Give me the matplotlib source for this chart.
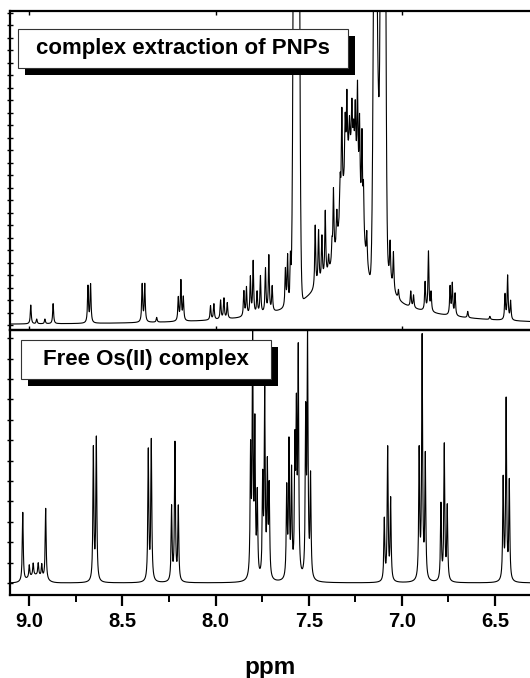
import numpy as np
import matplotlib
matplotlib.use("Agg")
import matplotlib.pyplot as plt
from matplotlib.patches import Rectangle
from matplotlib.ticker import MultipleLocator

plt.rcParams['font.family'] = ['Liberation Sans', 'DejaVu Sans']
plt.rcParams['font.weight'] = 'bold'

# ---- peak tables (ppm, height, half width) ----
# top spectrum : complex extraction of PNPs  (height 1 = top of panel)
top_pos = [8.992, 8.960, 8.916, 8.872, 8.685, 8.671, 8.394, 8.380, 8.316,
           8.200, 8.186, 8.173,
           8.027, 8.009, 7.973, 7.955, 7.937, 7.848, 7.834, 7.813, 7.798,
           7.777, 7.759, 7.732, 7.714, 7.696, 7.625, 7.613, 7.598,
           7.465, 7.447, 7.429, 7.411, 7.393, 7.375, 7.367, 7.349, 7.331,
           7.322, 7.304, 7.295, 7.281, 7.268, 7.259, 7.250, 7.238, 7.227,
           7.214, 7.206, 7.188,
           7.063, 7.045, 7.018, 6.952, 6.937, 6.875, 6.857, 6.843,
           6.741, 6.729, 6.714, 6.646, 6.527, 6.446, 6.432, 6.416]
top_h = [0.060, 0.015, 0.015, 0.064, 0.117, 0.122, 0.120, 0.120, 0.015,
         0.074, 0.127, 0.074,
         0.045, 0.050, 0.060, 0.065, 0.050, 0.080, 0.090, 0.120, 0.170,
         0.070, 0.120, 0.140, 0.180, 0.080, 0.120, 0.160, 0.150,
         0.200, 0.170, 0.140, 0.210, 0.050, 0.060, 0.220, 0.100, 0.120,
         0.300, 0.180, 0.220, 0.100, 0.150, 0.080, 0.180, 0.300, 0.250,
         0.280, 0.150, 0.100,
         0.120, 0.120, 0.030, 0.050, 0.040, 0.090, 0.190, 0.060,
         0.090, 0.100, 0.070, 0.020, 0.010, 0.080, 0.140, 0.060]
# broad features of the top spectrum (gaussian)
top_broad_pos = [7.566, 7.143, 7.125, 7.101, 7.270]
top_broad_h = [6.3, 1.74, 0.35, 4.7, 0.40]
top_broad_w = [0.0094, 0.0085, 0.006, 0.0085, 0.045]
# very broad background (lorentzian)
top_bg_pos = [7.35, 7.08, 7.20]
top_bg_h = [0.12, 0.10, 0.05]
top_bg_w = [0.15, 0.03, 0.40]

# bottom spectrum : Free Os(II) complex
bot_pos = [9.035, 9.000, 8.979, 8.952, 8.933, 8.912, 8.656, 8.640,
           8.361, 8.345, 8.236, 8.218, 8.200,
           7.812, 7.801, 7.789, 7.776, 7.747, 7.736, 7.722, 7.712,
           7.618, 7.606, 7.592, 7.574, 7.566, 7.556, 7.516, 7.506, 7.490,
           7.094, 7.076, 7.060, 6.907, 6.891, 6.874,
           6.790, 6.772, 6.756, 6.456, 6.440, 6.423]
bot_h = [0.28, 0.05, 0.05, 0.05, 0.05, 0.29, 0.54, 0.58,
         0.53, 0.57, 0.30, 0.56, 0.30,
         0.50, 0.95, 0.60, 0.33, 0.39, 0.74, 0.44, 0.36,
         0.36, 0.54, 0.42, 0.50, 0.62, 0.90, 0.64, 0.98, 0.41,
         0.25, 0.54, 0.33, 0.52, 0.98, 0.50,
         0.31, 0.55, 0.30, 0.41, 0.73, 0.40]
# broad raised base under the 9.0-8.9 multiplet
bot_bg_pos = [8.965]
bot_bg_h = [0.03]
bot_bg_w = [0.04]

gamma = 0.003
ppm = np.linspace(6.25, 9.15, 8000)


def lor(x, c, h, w):
    return h / (1.0 + ((x - c) / w) ** 2)


def gau(x, c, h, w):
    return h * np.exp(-(x - c) ** 2 / (2 * w ** 2))


top_spec = np.zeros_like(ppm)
for c, h in zip(top_pos, top_h):
    top_spec += lor(ppm, c, h, gamma)
for c, h, w in zip(top_broad_pos, top_broad_h, top_broad_w):
    top_spec += gau(ppm, c, h, w)
for c, h, w in zip(top_bg_pos, top_bg_h, top_bg_w):
    top_spec += lor(ppm, c, h, w)

bot_spec = np.zeros_like(ppm)
for c, h in zip(bot_pos, bot_h):
    bot_spec += lor(ppm, c, h, gamma)
for c, h, w in zip(bot_bg_pos, bot_bg_h, bot_bg_w):
    bot_spec += gau(ppm, c, h, w)

# ---- layout (pixels of the 530x678 picture) ----
W, H = 530, 678
fig = plt.figure(figsize=(W / 100, H / 100), dpi=100)


def fx(px):
    return px / W


def fy(py):
    return 1 - py / H


ax_top = fig.add_axes([fx(10), fy(330), fx(520), (330 - 11) / H])
ax_bot = fig.add_axes([fx(10), fy(595), fx(520), (595 - 330) / H])

for ax in (ax_top, ax_bot):
    ax.set_xlim(9.1036, 6.312)
    for s in ('left', 'top', 'bottom'):
        ax.spines[s].set_linewidth(1.6)
    ax.spines['right'].set_visible(False)
    ax.tick_params(axis='y', which='both', direction='inout', length=4, width=1,
                   labelleft=False, right=False)
    ax.set_facecolor('none')

ax_top.plot(ppm, top_spec, color='black', lw=0.8)
ax_top.set_ylim(-5 / 314, 319 / 314 - 5 / 314)
ax_top.yaxis.set_major_locator(MultipleLocator(12.5 / 314))
ax_top.xaxis.set_major_locator(MultipleLocator(1.0))
ax_top.tick_params(axis='x', direction='in', length=3, width=1, top=True,
                   labelbottom=False)

ax_bot.plot(ppm, bot_spec, color='black', lw=0.8)
ax_bot.set_ylim(-12 / 246, 253 / 246)
ax_bot.yaxis.set_major_locator(MultipleLocator(20.4 / 246))
ax_bot.xaxis.set_major_locator(MultipleLocator(0.5))
ax_bot.xaxis.set_minor_locator(MultipleLocator(0.25))
ax_bot.xaxis.set_major_formatter(matplotlib.ticker.FormatStrFormatter('%.1f'))
ax_bot.tick_params(axis='x', which='major', direction='out', length=8, width=1.6,
                   labelsize=14.5, pad=4)
ax_bot.tick_params(axis='x', which='minor', direction='out', length=5, width=1.4)
for lab in ax_bot.get_xticklabels():
    lab.set_fontweight('bold')
ax_bot.set_xlabel('ppm', fontsize=17.5, fontweight='bold', labelpad=18)


def label_box(x0, y0, x1, y1, text, shadow=8):
    fig.add_artist(Rectangle((fx(x0 + shadow - 1), fy(y1 + shadow - 1)),
                             fx(x1 - x0), (y1 - y0) / H,
                             transform=fig.transFigure, facecolor='black',
                             edgecolor='none', zorder=10))
    fig.add_artist(Rectangle((fx(x0), fy(y1)), fx(x1 - x0), (y1 - y0) / H,
                             transform=fig.transFigure, facecolor='white',
                             edgecolor='#333333', lw=0.8, zorder=11))
    fig.text(fx((x0 + x1) / 2), fy((y0 + y1) / 2), text, ha='center',
             va='center', fontsize=16, fontweight='bold', zorder=12)


label_box(18, 29, 348, 68, 'complex extraction of PNPs')
label_box(21, 340, 271, 379, 'Free Os(II) complex')

fig.savefig('out.png', dpi=100)
